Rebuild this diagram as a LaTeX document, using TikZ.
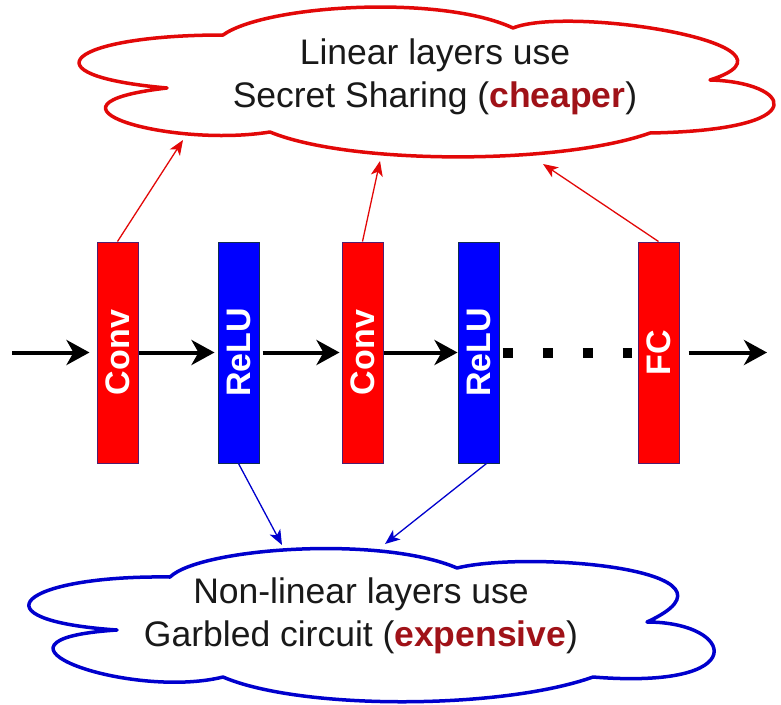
\documentclass[tikz,border=0pt]{standalone}
\usepackage{fontspec}
\setmainfont{Liberation Sans}
\usepackage{graphicx}
\usetikzlibrary{arrows.meta}

\definecolor{linred}{RGB}{226,8,8}
\definecolor{nlblue}{RGB}{0,0,205}
\definecolor{boxred}{RGB}{255,0,0}
\definecolor{boxblue}{RGB}{0,0,255}
\definecolor{redrim}{RGB}{80,30,110}
\definecolor{bluerim}{RGB}{15,45,80}
\definecolor{costred}{RGB}{160,18,24}
\definecolor{inktext}{RGB}{25,25,25}

\tikzset{
  layerbox/.style={draw, line width=1pt, minimum width=41pt, minimum height=221pt,
    inner sep=0pt, text=white, font=\fontsize{34}{36}\selectfont\bfseries},
  linearbox/.style={layerbox, fill=boxred, draw=redrim},
  nonlinbox/.style={layerbox, fill=boxblue, draw=bluerim},
  flow/.style={line width=4pt, black, -{Stealth[length=23pt,width=25pt,inset=7pt]}},
  dotrun/.style={line width=10pt, black, line cap=butt, dash pattern=on 10pt off 30pt},
  linkred/.style={line width=1.3pt, linred, -{Stealth[length=15pt,width=12pt,inset=4pt]}},
  linkblue/.style={line width=1.3pt, nlblue, -{Stealth[length=15pt,width=12pt,inset=4pt]}},
  cloudline/.style={line width=3.5pt, fill=white, line join=round},
  cloudtext/.style={align=center, text=inktext, inner sep=0pt,
    font=\fontsize{35.5}{43.5}\selectfont}
}

\begin{document}
\begin{tikzpicture}[x=1pt,y=-1pt]
\useasboundingbox (0,0) rectangle (781,704);

% cloud for the linear layers
\draw[cloudline, draw=linred]
  (223,35) .. controls (265,5) and (440,-6) .. (513,28)
           .. controls (570,5) and (820,45) .. (710,80)
           .. controls (790,82) and (820,130) .. (650,133)
           .. controls (560,165) and (350,165) .. (270,132)
           .. controls (170,148) and (20,105) .. (167,88)
           .. controls (20,75) and (70,35) .. cycle;
\node[cloudtext] (lintext) at (435,77)
  {Linear layers use\\Secret Sharing (\textbf{\textcolor{costred}{cheaper}})};

% cloud for the non-linear layers
\draw[cloudline, draw=nlblue]
  (170,577) .. controls (200,548) and (380,535) .. (457,568)
            .. controls (530,550) and (760,570) .. (647,622)
            .. controls (735,622) and (755,690) .. (593,677)
            .. controls (500,710) and (300,710) .. (223,677)
            .. controls (130,700) and (-40,640) .. (117,630)
            .. controls (-30,620) and (20,575) .. cycle;
\node[cloudtext] (nltext) at (361,616)
  {Non-linear layers use\\Garbled circuit (\textbf{\textcolor{costred}{expensive}})};

% network layers
\node[linearbox] (conv1) at (117.5,352.5) {\rotatebox{90}{Conv}};
\node[nonlinbox] (relu1) at (238.5,352.5) {\rotatebox{90}{ReLU}};
\node[linearbox] (conv2) at (362.5,352.5) {\rotatebox{90}{Conv}};
\node[nonlinbox] (relu2) at (478.5,352.5) {\rotatebox{90}{ReLU}};
\node[linearbox] (fc)    at (658.5,352.5) {\rotatebox{90}{FC}};

% data flow
\coordinate (input)  at (12,352.5);
\coordinate (output) at (767,352.5);
\draw[flow, shorten >=7pt] (input) -- (conv1);
\draw[flow, shorten >=3pt] (conv1) -- (relu1);
\draw[flow, shorten <=3pt, shorten >=2pt] (relu1) -- (conv2);
\draw[flow] (conv2) -- (relu2);
\draw[dotrun, shorten <=3pt, shorten >=6pt] (relu2) -- (fc);
\draw[flow, shorten <=9pt] (fc) -- (output);

% links to the protocols
\coordinate (ssA) at (183,140);
\coordinate (ssB) at (380,161);
\coordinate (ssC) at (543,164);
\coordinate (gcA) at (282,545);
\coordinate (gcB) at (385,544);
\draw[linkred] (conv1.north) -- (ssA);
\draw[linkred] (conv2.north) -- (ssB);
\draw[linkred] (fc.north) -- (ssC);
\draw[linkblue] (relu1.south) -- (gcA);
\draw[linkblue] ([xshift=8pt]relu2.south) -- (gcB);
\end{tikzpicture}
\end{document}
